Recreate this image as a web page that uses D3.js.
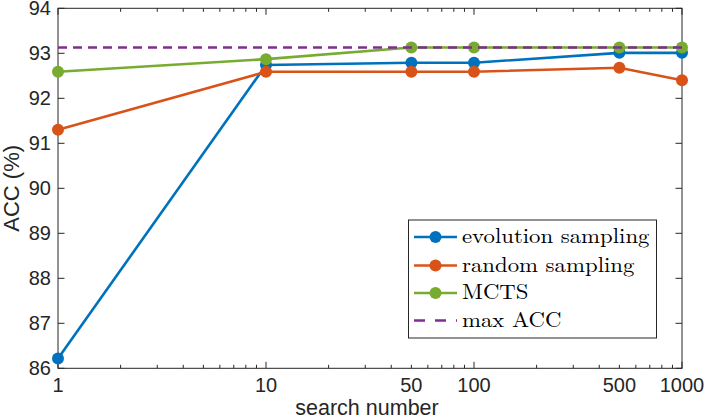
<!DOCTYPE html>
<html><head><meta charset="utf-8">
<script src="https://cdn.jsdelivr.net/npm/d3@7"></script>
<style>body{margin:0;background:#fff}svg{display:block}</style>
</head><body>
<script>
const searchNumbers = [1, 10, 50, 100, 500, 1000];
const evolutionSampling = [86.22, 92.74, 92.79, 92.79, 93.01, 93.01];
const randomSampling = [91.30, 92.59, 92.59, 92.59, 92.68, 92.40];
const mcts = [92.59, 92.87, 93.13, 93.13, 93.13, 93.13];
const maxAcc = 93.13;
const xTickLabels = [1, 10, 50, 100, 500, 1000];
const yTicks = [86, 87, 88, 89, 90, 91, 92, 93, 94];
const seriesNames = ["evolution sampling", "random sampling", "MCTS", "max ACC"];

const W = 705, H = 419;
const L = 58, R = 682, T = 8.3, B = 368.3;
const axisColor = "#262626";
const colors = ["#0072BD", "#D95319", "#77AC30", "#7E2F8E"];

const svg = d3.select("body").append("svg").attr("width", W).attr("height", H);
const x = d3.scaleLog().domain([1, 1000]).range([L, R]);
const y = d3.scaleLinear().domain([86, 94]).range([B, T]);

// minor ticks
const minor = [];
[1, 10, 100].forEach(d => { for (let k = 2; k <= 9; k++) minor.push(d * k); });
const major = [1, 10, 100, 1000];
const tickG = svg.append("g").attr("stroke", axisColor).attr("stroke-width", 1);
minor.forEach(v => {
  tickG.append("line").attr("x1", x(v)).attr("x2", x(v)).attr("y1", B).attr("y2", B - 3.5);
  tickG.append("line").attr("x1", x(v)).attr("x2", x(v)).attr("y1", T).attr("y2", T + 3.5);
});
major.forEach(v => {
  tickG.append("line").attr("x1", x(v)).attr("x2", x(v)).attr("y1", B).attr("y2", B - 6.5);
  tickG.append("line").attr("x1", x(v)).attr("x2", x(v)).attr("y1", T).attr("y2", T + 6.5);
});
yTicks.forEach(v => {
  tickG.append("line").attr("x1", L).attr("x2", L + 6.5).attr("y1", y(v)).attr("y2", y(v));
  tickG.append("line").attr("x1", R).attr("x2", R - 6.5).attr("y1", y(v)).attr("y2", y(v));
});
svg.append("rect").attr("x", L).attr("y", T).attr("width", R - L).attr("height", B - T)
  .attr("fill", "none").attr("stroke", axisColor).attr("stroke-width", 1);

// tick labels
const tf = "'Liberation Sans', Arial, sans-serif";
svg.append("g").selectAll("text").data(xTickLabels).join("text")
  .attr("x", d => x(d)).attr("y", 391.5).attr("text-anchor", "middle")
  .attr("font-family", tf).attr("font-size", 20).attr("fill", axisColor).text(d => d);
svg.append("g").selectAll("text").data(yTicks).join("text")
  .attr("x", 51).attr("y", d => y(d) + 7).attr("text-anchor", "end")
  .attr("font-family", tf).attr("font-size", 20).attr("fill", axisColor).text(d => d);
svg.append("text").attr("x", (L + R) / 2 - 3).attr("y", 414.5).attr("text-anchor", "middle")
  .attr("font-family", tf).attr("font-size", 21.5).attr("fill", axisColor).text("search number");
svg.append("text").attr("transform", `translate(19,${(T + B) / 2}) rotate(-90)`).attr("text-anchor", "middle")
  .attr("font-family", tf).attr("font-size", 22).attr("fill", axisColor).text("ACC (%)");

// series
const series = [evolutionSampling, randomSampling, mcts];
const line = d3.line().x((d, i) => x(searchNumbers[i])).y(d => y(d));
series.forEach((s, k) => {
  const g = svg.append("g");
  g.append("path").datum(s).attr("d", line).attr("fill", "none")
    .attr("stroke", colors[k]).attr("stroke-width", 2.6);
  g.selectAll("circle").data(s).join("circle")
    .attr("cx", (d, i) => x(searchNumbers[i])).attr("cy", d => y(d)).attr("r", 6)
    .attr("fill", colors[k]);
});
svg.append("line").attr("x1", x(1)).attr("x2", x(1000)).attr("y1", y(maxAcc)).attr("y2", y(maxAcc))
  .attr("stroke", colors[3]).attr("stroke-width", 2.6).attr("stroke-dasharray", "9,6");

// legend
const lg = svg.append("g");
lg.append("rect").attr("x", 408.5).attr("y", 220).attr("width", 248).attr("height", 118)
  .attr("fill", "#fff").attr("stroke", axisColor).attr("stroke-width", 1);
const rowY = [237, 265.5, 293, 320.5];
seriesNames.forEach((nm, k) => {
  const yy = rowY[k];
  const ln = lg.append("line").attr("x1", 414).attr("x2", 457).attr("y1", yy).attr("y2", yy)
    .attr("stroke", colors[k]).attr("stroke-width", 2.6);
  if (k === 3) ln.attr("stroke-dasharray", "11,10");
  else lg.append("circle").attr("cx", 435.5).attr("cy", yy).attr("r", 6).attr("fill", colors[k]);
  const t = lg.append("text").attr("x", 462).attr("y", yy + 6)
    .attr("font-family", "'Latin Modern Roman','DejaVu Serif','Liberation Serif',serif")
    .attr("font-size", 21).attr("fill", "#000").text(nm);
  const w = t.node().getComputedTextLength();
  t.attr("textLength", w * 1.085).attr("lengthAdjust", "spacingAndGlyphs");
});
</script>
</body></html>
